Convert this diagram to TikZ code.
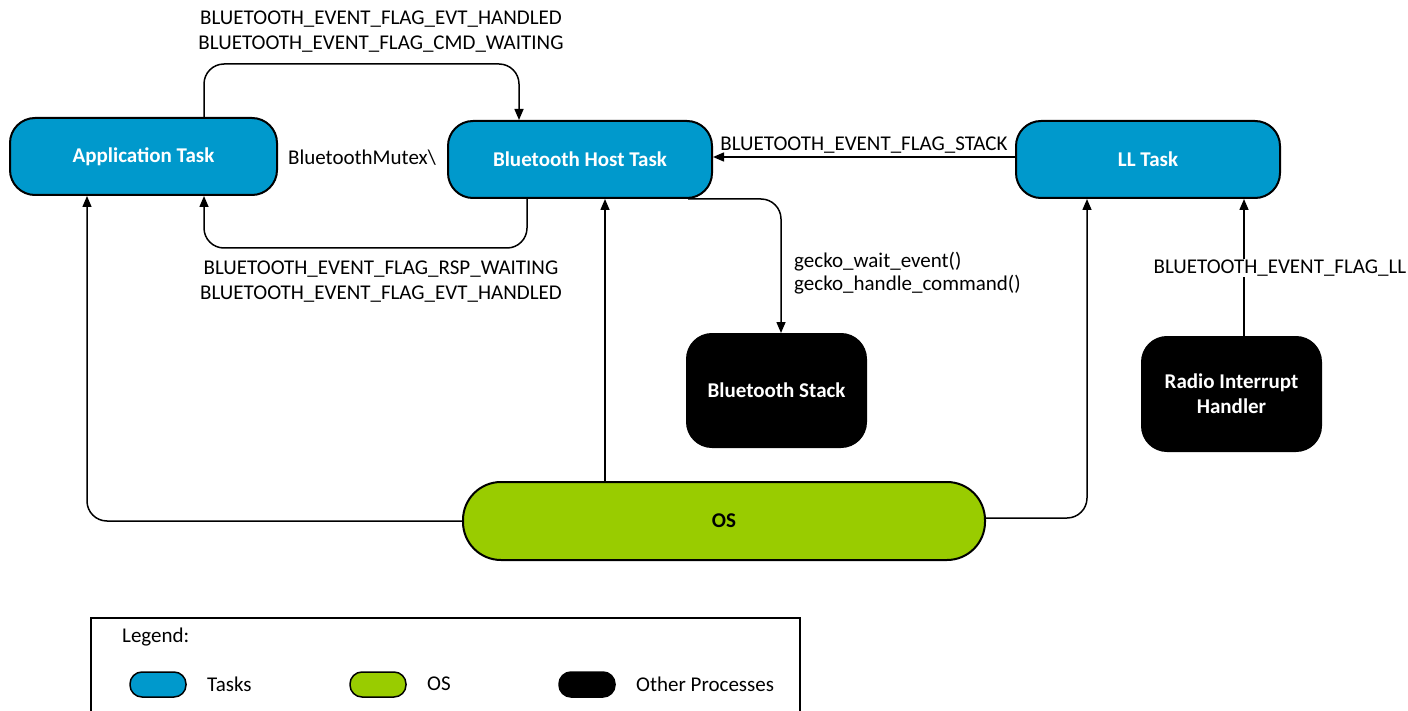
\documentclass[tikz,border=0pt]{standalone}
\usepackage{fontspec}
\setmainfont{Carlito}
\usetikzlibrary{arrows.meta}
\definecolor{taskblue}{HTML}{0099CC}
\definecolor{osgreen}{HTML}{99CC00}
\tikzset{
  base/.style={font=\fontsize{21}{25}\selectfont},
  boxbase/.style={draw=black,line width=2pt,font=\fontsize{21}{25}\selectfont\bfseries,align=center,inner sep=0pt},
  task/.style={boxbase,fill=taskblue,rounded corners=25pt,text=white},
  other/.style={boxbase,fill=black,rounded corners=25pt,text=white},
  osbox/.style={boxbase,fill=osgreen,rounded corners=38pt,text=black},
  lbl/.style={base,inner sep=1pt},
  conn/.style={line width=1.5pt,rounded corners=20pt,-{Triangle[length=11pt,width=9pt]}},
  swatch/.style={draw=black,line width=1.5pt,rounded corners=12pt,minimum width=56pt,minimum height=25pt,inner sep=0pt}
}
\begin{document}
\begin{tikzpicture}[x=1pt,y=-1pt]
\useasboundingbox (0,0) rectangle (1408,711);
\clip (0,0) rectangle (1408,711);
% nodes
\node[task,minimum width=267pt,minimum height=77pt] (app) at (143.5,156.5) {Application Task};
\node[task,minimum width=264pt,minimum height=77pt] (host) at (580,159.5) {Bluetooth Host Task};
\node[task,minimum width=264pt,minimum height=77pt] (ll) at (1148,159.5) {LL Task};
\node[other,minimum width=179pt,minimum height=113pt] (stack) at (776.5,390.5) {Bluetooth Stack};
\node[other,minimum width=179pt,minimum height=114pt] (radio) at (1231.5,394) {Radio Interrupt\\Handler};
\node[osbox,minimum width=522pt,minimum height=78pt] (os) at (724,521) {OS};
% connectors
\draw[conn] ([xshift=60.5pt]app.north) |- ([xshift=-61pt,yshift=56pt]host.north) -- ([xshift=-61pt]host.north);
\draw[conn] ([xshift=-53pt]host.south) |- ([xshift=60.5pt,yshift=-52pt]app.south) -- ([xshift=60.5pt]app.south);
\draw[conn] ([yshift=2.5pt]ll.west) -- ([yshift=2.5pt]host.east);
\draw[conn] ([xshift=-25pt]host.south east) -| ([xshift=4.5pt]stack.north);
\draw[conn] (os.west) -| ([xshift=-56.5pt]app.south);
\draw[conn] ([xshift=-119pt]os.north) -- ([xshift=25pt]host.south);
\draw[conn] ([yshift=3pt]os.east) -| ([xshift=-61pt]ll.south);
\draw[conn] ([xshift=12.5pt]radio.north) -- ([xshift=96pt]ll.south);
% labels
\node[lbl,align=center] (ltop) at (381,32) {BLUETOOTH\_EVENT\_FLAG\_EVT\_HANDLED\\BLUETOOTH\_EVENT\_FLAG\_CMD\_WAITING};
\node[lbl,align=center] (lbot) at (381,281.5) {BLUETOOTH\_EVENT\_FLAG\_RSP\_WAITING\\BLUETOOTH\_EVENT\_FLAG\_EVT\_HANDLED};
\node[lbl] (mutex) at (362,158) {BluetoothMutex\textbackslash};
\node[lbl] (lstack) at (864,145) {BLUETOOTH\_EVENT\_FLAG\_STACK};
\node[lbl,align=left,anchor=west,font=\fontsize{21}{23}\selectfont] (lgecko) at (793,273.5) {gecko\_wait\_event()\\gecko\_handle\_command()};
\node[lbl,fill=white] (lll) at (1280,268) {BLUETOOTH\_EVENT\_FLAG\_LL};
% legend
\draw[line width=1.5pt] (91,618) rectangle (800,740);
\node[lbl,anchor=west] (leg) at (121,637) {Legend:};
\node[swatch,fill=taskblue] (s1) at (158,684.5) {};
\node[lbl,anchor=west] (t1) at (206,684) {Tasks};
\node[swatch,fill=osgreen] (s2) at (378,684.5) {};
\node[lbl,anchor=west] (t2) at (426,684) {OS};
\node[swatch,fill=black] (s3) at (587,684.5) {};
\node[lbl,anchor=west] (t3) at (635,684) {Other Processes};
\end{tikzpicture}
\end{document}
